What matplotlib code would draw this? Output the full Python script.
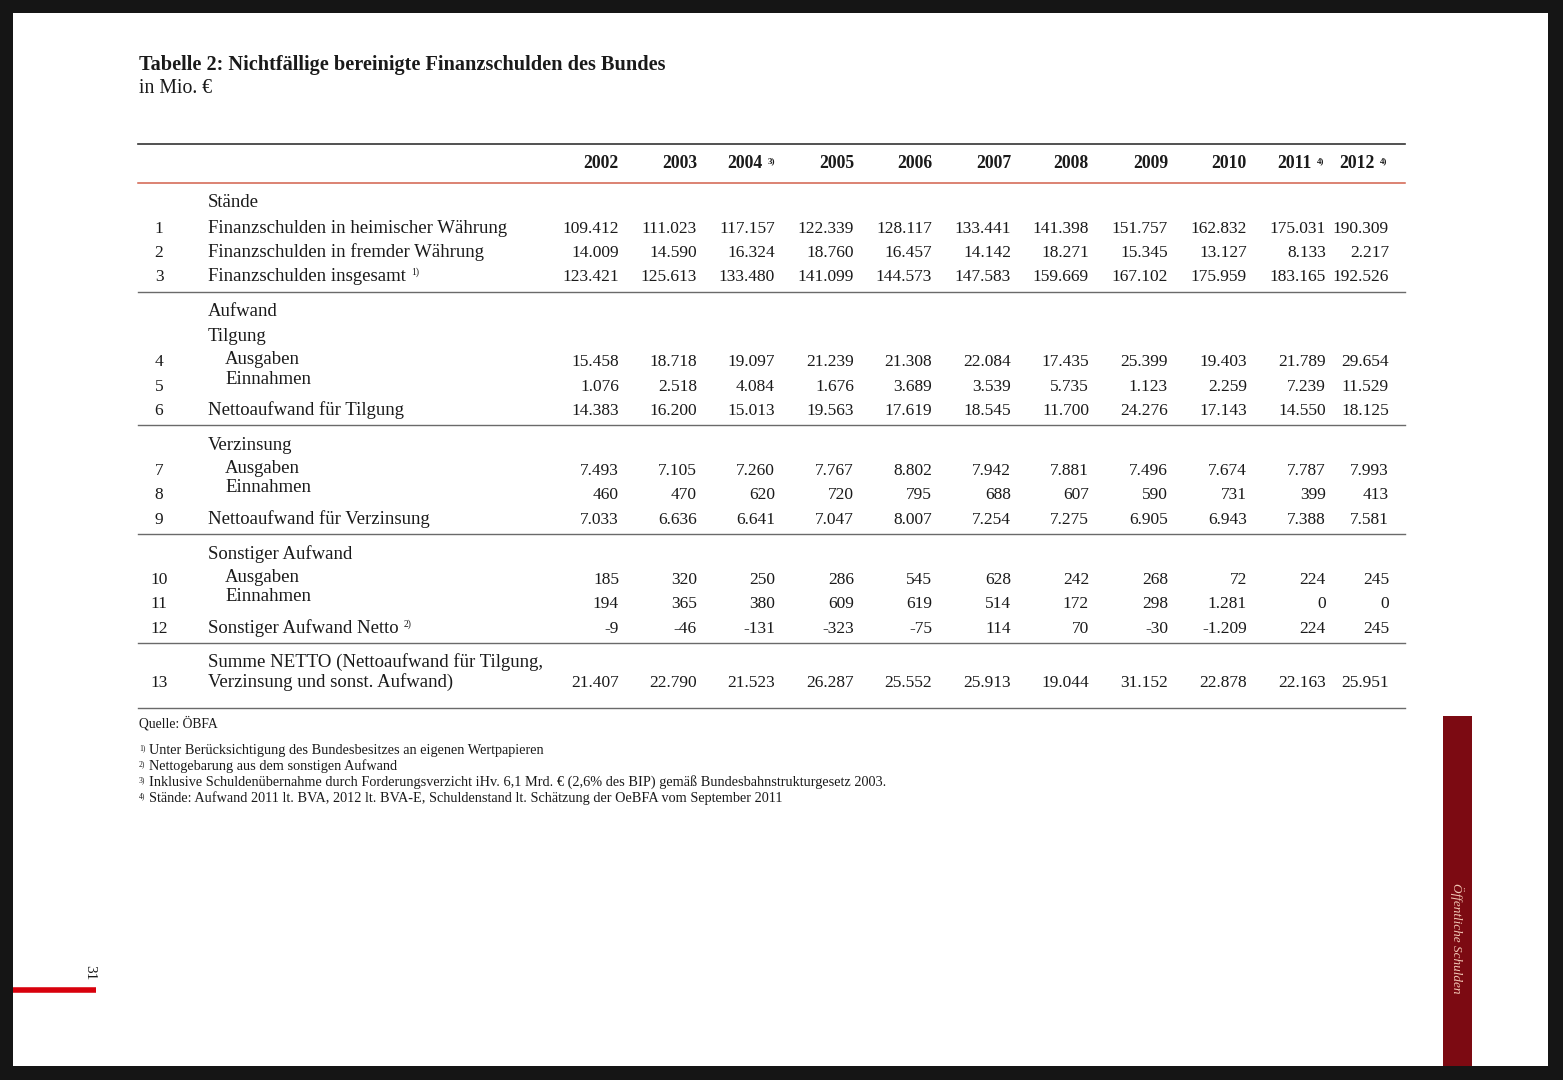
import matplotlib
matplotlib.use("Agg")
import matplotlib.pyplot as plt
from matplotlib.patches import Rectangle

# ---------------- data ----------------
title = "Tabelle 2: Nichtfällige bereinigte Finanzschulden des Bundes"
subtitle = "in Mio. €"
years = ["2002", "2003", "2004", "2005", "2006", "2007", "2008", "2009", "2010", "2011", "2012"]
year_notes = ["", "", "3)", "", "", "", "", "", "", "4)", "4)"]

row_nr = ["1", "2", "3", "4", "5", "6", "7", "8", "9", "10", "11", "12", "13"]
row_labels = [
    "Finanzschulden in heimischer Währung",
    "Finanzschulden in fremder Währung",
    "Finanzschulden insgesamt",
    "Ausgaben",
    "Einnahmen",
    "Nettoaufwand für Tilgung",
    "Ausgaben",
    "Einnahmen",
    "Nettoaufwand für Verzinsung",
    "Ausgaben",
    "Einnahmen",
    "Sonstiger Aufwand Netto",
    "Verzinsung und sonst. Aufwand)",
]
row_notes = ["", "", "1)", "", "", "", "", "", "", "", "", "2)", ""]

fin_heimisch = [109412, 111023, 117157, 122339, 128117, 133441, 141398, 151757, 162832, 175031, 190309]
fin_fremd = [14009, 14590, 16324, 18760, 16457, 14142, 18271, 15345, 13127, 8133, 2217]
fin_gesamt = [123421, 125613, 133480, 141099, 144573, 147583, 159669, 167102, 175959, 183165, 192526]
tilg_ausgaben = [15458, 18718, 19097, 21239, 21308, 22084, 17435, 25399, 19403, 21789, 29654]
tilg_einnahmen = [1076, 2518, 4084, 1676, 3689, 3539, 5735, 1123, 2259, 7239, 11529]
tilg_netto = [14383, 16200, 15013, 19563, 17619, 18545, 11700, 24276, 17143, 14550, 18125]
zins_ausgaben = [7493, 7105, 7260, 7767, 8802, 7942, 7881, 7496, 7674, 7787, 7993]
zins_einnahmen = [460, 470, 620, 720, 795, 688, 607, 590, 731, 399, 413]
zins_netto = [7033, 6636, 6641, 7047, 8007, 7254, 7275, 6905, 6943, 7388, 7581]
sonst_ausgaben = [185, 320, 250, 286, 545, 628, 242, 268, 72, 224, 245]
sonst_einnahmen = [194, 365, 380, 609, 619, 514, 172, 298, 1281, 0, 0]
sonst_netto = [-9, -46, -131, -323, -75, 114, 70, -30, -1209, 224, 245]
summe_netto = [21407, 22790, 21523, 26287, 25552, 25913, 19044, 31152, 22878, 22163, 25951]

table_rows = [fin_heimisch, fin_fremd, fin_gesamt, tilg_ausgaben, tilg_einnahmen, tilg_netto,
              zins_ausgaben, zins_einnahmen, zins_netto, sonst_ausgaben, sonst_einnahmen,
              sonst_netto, summe_netto]

section_labels = ["Stände", "Aufwand", "Tilgung", "Verzinsung", "Sonstiger Aufwand",
                  "Summe NETTO (Nettoaufwand für Tilgung,"]

source = "Quelle: ÖBFA"
footnote_marks = ["1)", "2)", "3)", "4)"]
footnotes = [
    "Unter Berücksichtigung des Bundesbesitzes an eigenen Wertpapieren",
    "Nettogebarung aus dem sonstigen Aufwand",
    "Inklusive Schuldenübernahme durch Forderungsverzicht iHv. 6,1 Mrd. € (2,6% des BIP) gemäß Bundesbahnstrukturgesetz 2003.",
    "Stände: Aufwand 2011 lt. BVA, 2012 lt. BVA-E, Schuldenstand lt. Schätzung der OeBFA vom September 2011",
]
side_text = "Öffentliche Schulden"
page_number = "31"

# ---------------- layout ----------------
W, H = 1563, 1080
FONT = "Liberation Serif"
TXT = "#1a1a1a"
LBL = 13.5

fig = plt.figure(figsize=(W / 100, H / 100), dpi=100, facecolor="#151515")
ax = fig.add_axes([0, 0, 1, 1])
ax.set_xlim(0, W)
ax.set_ylim(H, 0)
ax.axis("off")

ax.add_patch(Rectangle((13, 13), 1535, 1053, facecolor="white", edgecolor="none", zorder=0))

def fmt(v):
    s = f"{abs(v):,}".replace(",", ".")
    return ("-" if v < 0 else "") + s

def t(x, y, s, size=12.5, ha="left", weight="normal", **kw):
    return ax.text(x, y, s, fontsize=size, ha=ha, va="baseline", family=FONT,
                   weight=weight, color=kw.pop("color", TXT), **kw)

# title
t(139, 70, title, size=14.6, weight="bold")
t(139, 93, subtitle, size=14.2)

# lines
ax.plot([138, 1405], [144, 144], color="#333333", lw=1.2)
ax.plot([138, 1405], [183, 183], color="#d2604c", lw=1.1)
for yl in [292, 425, 534, 643, 708]:
    ax.plot([138, 1405], [yl, yl], color="#6a6a6a", lw=1.0)

# header
col_right = [619, 697, 763, 854, 932, 1011, 1089, 1168, 1247, 1312, 1375]
for x, y_, n in zip(col_right, years, year_notes):
    t(x, 168, y_, size=12.7, ha="right", weight="bold")
    if n:
        t(x + 5, 163, n, size=6.5, weight="bold")

# body
num_right = [619, 697, 775, 854, 932, 1011, 1089, 1168, 1247, 1326, 1389]
row_base = [233, 257, 281, 366, 391, 415, 475, 499, 524, 584, 608, 633, 687]
label_base = [233, 257, 281, 364, 384, 415, 473, 492, 524, 582, 601, 633, 687]
label_x = [208, 208, 208, 225, 225, 208, 225, 225, 208, 225, 225, 208, 208]

fig.canvas.draw()
for i in range(len(table_rows)):
    t(159, row_base[i], row_nr[i], size=12.5, ha="center")
    lab = t(label_x[i], label_base[i], row_labels[i], size=LBL)
    if row_notes[i]:
        bb = lab.get_window_extent(renderer=fig.canvas.get_renderer())
        t(bb.x1 + 5, label_base[i] - 6, row_notes[i], size=7)
    for x, v in zip(num_right, table_rows[i]):
        t(x, row_base[i], fmt(v), ha="right")

section_pos = [(208, 207), (208, 316), (208, 341), (208, 450), (208, 559), (208, 667)]
for (x, y), s in zip(section_pos, section_labels):
    t(x, y, s, size=LBL)

# source & footnotes
t(139, 727, source, size=9.8)
for k, (m, s) in enumerate(zip(footnote_marks, footnotes)):
    yb = 754 + 16 * k
    t(139, yb - 4, m, size=5.5)
    t(149, yb, s, size=10.3)

# side bar & page marker
ax.add_patch(Rectangle((1443, 716), 29, 350, facecolor="#7c0a12", edgecolor="none", zorder=1))
ax.text(1457, 938, side_text, rotation=-90, ha="center", va="center", family=FONT,
        style="italic", fontsize=9.5, color="#f2c7b5", zorder=2)
ax.plot([13, 96], [990, 990], color="#d8000c", lw=4, solid_capstyle="butt")
ax.text(90, 973, page_number, rotation=-90, ha="center", va="center", family=FONT,
        fontsize=11, color=TXT)

fig.savefig("out.png", dpi=100, facecolor=fig.get_facecolor())
